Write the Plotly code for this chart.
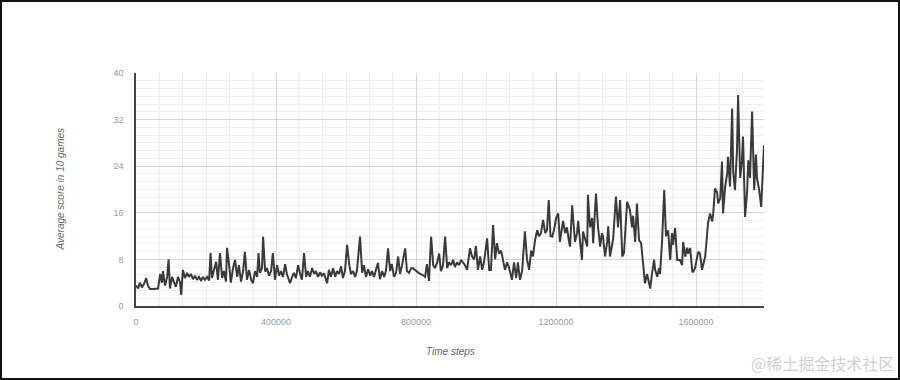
import plotly.graph_objects as go

# Time steps (in thousands) and average score
steps_k = [
    0, 6, 11, 17, 23, 29, 34, 40, 49, 57, 63, 69, 74, 77, 83, 89, 93, 97, 103, 109,
    114, 120, 126, 129, 134, 140, 146, 151, 157, 163, 169, 174, 180, 186, 191, 197, 203, 209, 213, 217,
    223, 229, 234, 240, 246, 251, 257, 260, 266, 271, 277, 283, 289, 294, 300, 306, 311, 317, 323, 329,
    334, 340, 346, 350, 354, 360, 363, 369, 374, 380, 386, 391, 397, 403, 409, 414, 420, 426, 431, 440,
    446, 451, 457, 463, 469, 474, 480, 486, 491, 497, 503, 509, 514, 520, 526, 531, 537, 546, 551, 557,
    563, 569, 574, 580, 586, 591, 597, 603, 609, 614, 620, 626, 631, 640, 646, 651, 657, 663, 669, 674,
    680, 686, 691, 697, 703, 709, 714, 720, 726, 731, 737, 743, 749, 754, 760, 769, 774, 780, 786, 791,
    800, 809, 817, 826, 831, 837, 843, 849, 854, 860, 866, 871, 877, 883, 889, 894, 900, 906, 911, 917,
    923, 929, 934, 940, 946, 954, 960, 966, 971, 977, 983, 989, 994, 1003, 1009, 1014, 1020, 1026, 1031, 1037,
    1043, 1049, 1054, 1060, 1066, 1074, 1080, 1086, 1091, 1097, 1103, 1111, 1117, 1123, 1129, 1134, 1140, 1146, 1151, 1157,
    1163, 1169, 1174, 1179, 1184, 1189, 1194, 1200, 1206, 1211, 1220, 1226, 1231, 1237, 1240, 1246, 1251, 1254, 1260, 1263,
    1269, 1274, 1277, 1283, 1289, 1291, 1297, 1303, 1306, 1314, 1320, 1326, 1331, 1334, 1340, 1346, 1349, 1354, 1360, 1363,
    1371, 1377, 1383, 1389, 1394, 1403, 1411, 1417, 1420, 1426, 1431, 1437, 1443, 1449, 1454, 1460, 1463, 1469, 1474, 1480,
    1483, 1489, 1494, 1497, 1503, 1509, 1514, 1520, 1526, 1531, 1534, 1540, 1546, 1549, 1554, 1560, 1563, 1569, 1574, 1577,
    1583, 1589, 1591, 1597, 1606, 1611, 1617, 1620, 1626, 1631, 1634, 1640, 1646, 1649, 1654, 1660, 1663, 1669, 1674, 1677,
    1683, 1689, 1691, 1697, 1703, 1706, 1711, 1717, 1720, 1726, 1731, 1734, 1740, 1746, 1749, 1754, 1760, 1766, 1771, 1774,
    1780, 1786, 1789, 1794,
]
scores = [
    3.5, 3.0, 4.0, 3.2, 3.8, 4.8, 3.5, 2.9, 2.9, 2.9, 3.0, 5.5, 4.0, 6.0, 3.5, 5.0, 8.0, 3.0, 5.0, 4.0,
    3.3, 5.0, 4.0, 1.9, 6.2, 4.8, 5.7, 5.0, 5.5, 4.6, 5.2, 4.5, 5.0, 4.3, 5.0, 4.5, 5.0, 4.4, 9.1, 4.8,
    6.0, 7.6, 4.5, 9.1, 4.8, 6.0, 4.2, 10.0, 7.0, 4.0, 6.5, 7.9, 5.0, 7.0, 4.2, 6.0, 9.3, 4.5, 6.2, 4.5,
    3.9, 6.0, 5.0, 9.1, 5.7, 6.5, 11.9, 5.9, 6.5, 5.2, 6.0, 9.1, 4.5, 7.0, 5.2, 6.0, 5.0, 7.2, 5.5, 3.9,
    5.0, 5.7, 4.8, 7.0, 5.5, 4.5, 9.1, 5.0, 6.0, 5.0, 6.5, 5.5, 6.0, 5.0, 5.8, 5.2, 5.6, 3.9, 6.2, 5.0,
    6.5, 5.0, 6.0, 5.5, 6.8, 4.8, 6.0, 10.5, 7.2, 5.5, 6.0, 5.0, 6.0, 11.9, 5.7, 7.0, 5.0, 6.3, 5.2, 6.0,
    5.0, 6.5, 7.4, 4.6, 6.0, 5.0, 6.0, 9.9, 6.0, 7.2, 5.0, 5.7, 8.5, 5.5, 7.0, 9.9, 6.0, 5.7, 6.5, 6.5,
    6.0, 5.6, 5.4, 5.0, 7.2, 4.3, 11.9, 7.0, 6.5, 7.4, 9.0, 6.0, 7.0, 11.9, 6.5, 7.5, 7.0, 7.9, 6.7, 7.5,
    7.0, 7.9, 7.5, 7.0, 6.2, 9.9, 8.5, 8.0, 10.3, 6.2, 8.5, 6.2, 7.5, 11.6, 6.2, 6.2, 13.9, 8.0, 10.8, 9.0,
    9.5, 8.0, 6.2, 7.5, 6.5, 4.5, 7.5, 4.8, 7.5, 4.5, 6.0, 12.8, 8.0, 6.2, 9.5, 8.5, 11.3, 13.0, 12.0, 12.5,
    14.8, 12.5, 13.0, 18.2, 12.0, 11.9, 13.0, 15.1, 15.9, 11.0, 14.6, 12.5, 13.5, 11.0, 10.2, 17.3, 13.5, 11.0, 12.5, 14.6,
    10.8, 7.9, 12.8, 11.5, 10.2, 19.1, 13.5, 15.1, 10.8, 19.3, 13.5, 10.2, 12.5, 12.0, 8.5, 11.0, 13.7, 8.5, 11.0, 11.5,
    18.8, 13.5, 18.2, 8.5, 9.1, 17.9, 16.5, 13.5, 15.5, 11.0, 17.6, 11.3, 10.8, 6.7, 3.9, 5.5, 4.5, 3.0, 5.5, 7.9,
    6.2, 5.0, 6.5, 5.5, 11.3, 19.9, 12.0, 13.0, 7.9, 12.5, 10.5, 13.4, 7.9, 7.9, 7.9, 7.0, 11.0, 8.5, 10.0, 9.0,
    10.0, 6.0, 5.8, 6.5, 9.3, 9.0, 6.2, 7.0, 8.5, 11.9, 14.2, 15.9, 14.5, 15.9, 20.2, 19.5, 17.6, 18.5, 24.8, 15.9,
    20.5, 22.8, 25.6, 20.5, 33.9, 23.0, 19.9, 27.0, 36.2, 22.0, 25.0, 29.1, 15.3, 19.9, 25.0, 22.0, 33.4, 19.9, 26.0, 22.0,
    20.0, 17.0, 22.0, 27.6,
]
steps = [s * 1000 for s in steps_k]

x_ticks = [0, 400000, 800000, 1200000, 1600000]
y_ticks = [0, 8, 16, 24, 32, 40]
x_max = 1794000
y_max = 40

W, H = 900, 380
L, R, T, B = 136, 136, 73, 74
pw, ph = W - L - R, H - T - B

fig = go.Figure()
fig.add_trace(go.Scatter(
    x=steps, y=scores, mode="lines",
    line=dict(color="#3a3a3a", width=2),
    hoverinfo="skip", showlegend=False,
))

fig.update_layout(
    width=W, height=H,
    margin=dict(l=L, r=R, t=T, b=B, pad=0),
    paper_bgcolor="white", plot_bgcolor="white",
    font=dict(family="Liberation Sans, Arial, sans-serif", size=9, color="#999999"),
    xaxis=dict(
        range=[0, x_max], tickvals=x_ticks, ticktext=[str(v) for v in x_ticks],
        showgrid=True, gridcolor="#d6d6d6", gridwidth=1,
        minor=dict(dtick=400000 / 6, tick0=0, showgrid=True, gridcolor="#eeeeee", gridwidth=1),
        showline=True, linecolor="#444444", linewidth=1.5,
        zeroline=False, ticks="", ticklabelstandoff=6,
        tickfont=dict(size=9, color="#9a9a9a"),
    ),
    yaxis=dict(
        range=[0, y_max], tickvals=y_ticks, ticktext=[str(v) for v in y_ticks],
        showgrid=True, gridcolor="#d6d6d6", gridwidth=1,
        minor=dict(dtick=8 / 6, tick0=0, showgrid=True, gridcolor="#eeeeee", gridwidth=1),
        showline=True, linecolor="#444444", linewidth=1.5,
        zeroline=False, ticks="", ticklabelstandoff=9,
        tickfont=dict(size=9, color="#9a9a9a"),
    ),
    annotations=[
        dict(text="<i>Average score in 10 games</i>", xref="paper", yref="paper",
             x=(60 - L) / pw, y=0.5, textangle=-90, showarrow=False,
             font=dict(size=10, color="#666666"), xanchor="center", yanchor="middle"),
        dict(text="<i>Time steps</i>", xref="paper", yref="paper",
             x=0.5, y=-(351 - T - ph) / ph, showarrow=False,
             font=dict(size=10, color="#666666"), xanchor="center", yanchor="middle"),
        dict(text="@稀土掘金技术社区", xref="paper", yref="paper",
             x=(896 - L) / pw, y=-(363 - T - ph) / ph, showarrow=False,
             font=dict(size=16, color="#d0d0d0", family="Noto Sans CJK SC"),
             xanchor="right", yanchor="middle"),
    ],
    shapes=[
        dict(type="rect", xref="paper", yref="paper",
             x0=(-L + 1) / pw, x1=(pw + R - 1) / pw,
             y0=-(B - 1) / ph, y1=(ph + T - 1) / ph,
             line=dict(color="#111111", width=2), layer="above"),
    ],
)

fig.write_html("out.html")
